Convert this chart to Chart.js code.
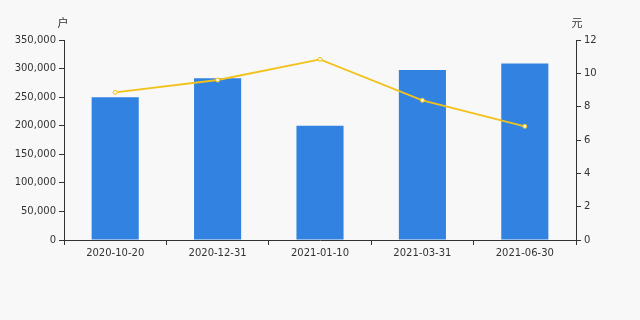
<!DOCTYPE html>
<html>
<head>
<meta charset="utf-8">
<script src="https://cdn.jsdelivr.net/npm/chart.js@4"></script>
<style>
  html, body { margin: 0; padding: 0; background: #f8f8f8; }
  #wrap { width: 640px; height: 320px; }
</style>
</head>
<body>
<div id="wrap"><canvas id="chart" width="640" height="320"></canvas></div>
<script>
const dates = ['2020-10-20', '2020-12-31', '2021-01-10', '2021-03-31', '2021-06-30'];
const households = [250000, 283000, 200000, 297500, 309000];
const avgValue = [8.86, 9.6, 10.84, 8.38, 6.82];

const axisColor = '#333';
const fontSpec = { family: 'DejaVu Sans', size: 10 };

// unit labels above both y axes
const unitLabels = {
  id: 'unitLabels',
  afterDraw(chart) {
    const c = chart.ctx;
    c.save();
    c.fillStyle = axisColor;
    c.font = '11px "Noto Sans CJK SC"';
    c.textAlign = 'center';
    c.textBaseline = 'middle';
    c.fillText('户', chart.scales.y.right - 1, 23);
    c.fillText('元', chart.scales.y1.left + 1, 23);
    c.restore();
  }
};

new Chart(document.getElementById('chart'), {
  type: 'bar',
  data: {
    labels: dates,
    datasets: [{
      type: 'line',
      data: avgValue,
      yAxisID: 'y1',
      borderColor: '#f2c21b',
      borderWidth: 1.8,
      pointRadius: 2,
      pointBackgroundColor: '#fff7d6',
      pointBorderColor: '#f2c21b',
      pointBorderWidth: 1,
      tension: 0,
      order: 0
    }, {
      data: households,
      yAxisID: 'y',
      backgroundColor: '#3282e2',
      barPercentage: 0.46,
      categoryPercentage: 1,
      order: 1
    }]
  },
  options: {
    responsive: false,
    animation: false,
    layout: { padding: { top: 40, bottom: 0, left: 0, right: 0 } },
    plugins: { legend: { display: false }, tooltip: { enabled: false } },
    scales: {
      x: {
        grid: { drawOnChartArea: false, color: axisColor, tickLength: 5, offset: true },
        border: { color: axisColor },
        ticks: { color: axisColor, font: fontSpec, maxRotation: 0, padding: 2 },
        afterFit(s) { s.height = 80; }
      },
      y: {
        position: 'left',
        min: 0, max: 350000,
        grid: { drawOnChartArea: false, color: axisColor, tickLength: 5 },
        border: { color: axisColor },
        ticks: {
          stepSize: 50000, color: axisColor, font: fontSpec, padding: 3,
          callback: v => v.toLocaleString('en-US')
        },
        afterFit(s) { s.width = 64; }
      },
      y1: {
        position: 'right',
        min: 0, max: 12,
        grid: { drawOnChartArea: false, color: axisColor, tickLength: 5 },
        border: { color: axisColor },
        ticks: { stepSize: 2, color: axisColor, font: fontSpec, padding: 3 },
        afterFit(s) { s.width = 64; }
      }
    }
  },
  plugins: [unitLabels]
});
</script>
</body>
</html>
